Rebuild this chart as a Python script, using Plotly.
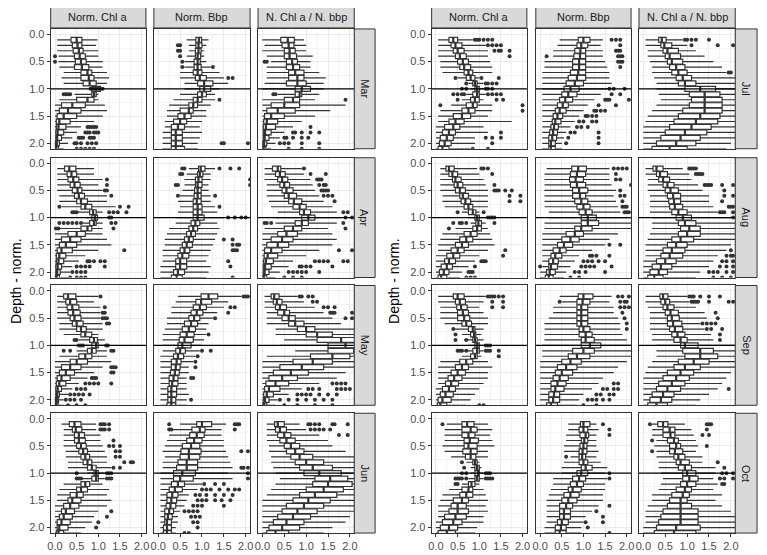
import plotly.graph_objects as go

# depth bins (normalised depth), one box per bin
DEPTH = [0.1, 0.2, 0.3, 0.4, 0.5, 0.6, 0.7, 0.8, 0.9, 1.0,
         1.1, 1.2, 1.3, 1.4, 1.5, 1.6, 1.7, 1.8, 1.9, 2.0, 2.1]

VARIABLES = ['Norm. Chl a', 'Norm. Bbp', 'N. Chl a / N. bbp']
MONTHS_LEFT = ['Mar', 'Apr', 'May', 'Jun']
MONTHS_RIGHT = ['Jul', 'Aug', 'Sep', 'Oct']
TICKS = [0.0, 0.5, 1.0, 1.5, 2.0]
TICK_TEXT = ['0.0', '0.5', '1.0', '1.5', '2.0']

# box stats per depth bin: (lower whisker, q1, median, q3, upper whisker)
mar_chl = [(.05,.37,.5,.62,.98),(.05,.4,.52,.62,.95),(.05,.42,.55,.65,1.0),(.08,.45,.57,.7,1.0),
           (.08,.47,.6,.72,1.1),(.1,.45,.62,.78,1.1),(.2,.6,.75,.85,1.2),(.15,.6,.78,.9,1.25),
           (.2,.65,.8,.95,1.2),(.8,.85,.95,1.05,1.1),(.45,.85,.9,.95,1.0),(.1,.5,.75,.9,1.0),
           (0,.15,.4,.7,1.15),(0,.1,.3,.6,1.2),(0,.05,.2,.5,1.1),(0,.03,.1,.35,.9),
           (0,.03,.08,.25,.6),(0,.02,.06,.2,.5),(0,.02,.05,.15,.4),(0,.01,.04,.1,.3),(0,.01,.03,.08,.2)]
mar_bbp = [(.65,.86,.93,.99,1.15),(.7,.86,.92,1.0,1.1),(.7,.85,.92,.98,1.05),(.65,.85,.9,.97,1.05),
           (.6,.82,.9,.96,1.1),(.6,.82,.9,.98,1.2),(.5,.8,.9,1.0,1.4),(.5,.85,.95,1.1,1.5),
           (.6,.9,1.05,1.25,1.6),(.6,.95,1.05,1.2,1.4),(.5,.9,1.0,1.1,1.3),(.35,.8,.9,1.0,1.3),
           (.25,.7,.8,.9,1.2),(.2,.5,.7,.8,1.1),(.2,.45,.6,.75,1.1),(.15,.35,.5,.65,1.0),
           (.15,.3,.45,.6,.95),(.1,.3,.4,.55,1.0),(.1,.3,.4,.55,.95),(.1,.3,.4,.55,.9),(.1,.3,.4,.6,.9)]
mar_rat = [(0,.42,.58,.73,.95),(.05,.45,.6,.72,1.0),(0,.5,.62,.75,1.0),(.1,.5,.62,.78,1.15),
           (.2,.55,.68,.8,1.1),(.1,.55,.7,.85,1.1),(.1,.6,.75,.95,1.3),(.1,.6,.8,.95,1.45),
           (.05,.55,.8,1.0,1.4),(0,.75,.9,1.1,1.4),(.35,.75,.85,.9,1.3),(0,.5,.7,.85,1.2),
           (0,.2,.5,.85,1.9),(0,.1,.35,.75,1.55),(0,.05,.2,.5,1.2),(0,.03,.1,.35,.9),
           (0,.02,.08,.3,.7),(0,.02,.06,.2,.5),(0,.02,.05,.15,.4),(0,.01,.04,.1,.3),(0,.01,.03,.08,.2)]

apr_chl = [(.05,.22,.33,.48,.9),(.05,.28,.38,.5,.9),(.05,.3,.42,.55,1.1),(.05,.35,.45,.58,1.0),
           (.05,.4,.52,.62,1.1),(.1,.45,.55,.68,1.2),(.1,.5,.6,.75,1.2),(.15,.6,.7,.85,1.4),
           (.5,.8,.88,.95,1.1),(.7,.85,.92,.98,1.1),(.6,.8,.9,.95,1.1),(.1,.6,.75,.85,1.1),
           (0,.3,.5,.7,1.1),(0,.15,.35,.6,1.2),(0,.1,.25,.5,1.3),(0,.05,.15,.4,1.0),
           (0,.03,.1,.25,.7),(0,.03,.08,.2,.55),(0,.02,.06,.15,.4),(0,.02,.05,.12,.35),(0,.01,.04,.1,.3)]
apr_bbp = [(.7,.92,.97,1.07,1.3),(.65,.9,.95,1.02,1.2),(.6,.85,.92,1.0,1.2),(.6,.85,.9,1.0,1.15),
           (.55,.83,.9,.98,1.15),(.5,.82,.9,.98,1.2),(.45,.8,.88,.98,1.2),(.5,.8,.9,1.0,1.3),
           (.45,.8,.9,1.0,1.35),(.4,.8,.9,1.05,1.5),(.4,.75,.85,.95,1.35),(.25,.7,.8,.9,1.4),
           (.2,.65,.75,.85,1.35),(.15,.6,.7,.8,1.3),(.15,.55,.65,.78,1.25),(.1,.5,.6,.72,1.2),
           (.1,.45,.55,.7,1.15),(.1,.4,.5,.65,1.1),(.05,.4,.5,.65,1.2),(.05,.35,.45,.6,1.15),(.05,.3,.42,.55,1.1)]
apr_rat = [(.05,.23,.35,.42,.9),(.05,.3,.4,.52,.95),(.05,.35,.45,.58,1.1),(.1,.4,.5,.62,1.15),
           (.1,.45,.55,.7,1.2),(.1,.5,.6,.78,1.3),(.15,.6,.72,.9,1.4),(.2,.7,.85,1.0,1.6),
           (.35,.85,.95,1.1,1.7),(.3,.9,1.05,1.2,1.8),(.3,.75,.9,1.05,1.7),(.05,.5,.7,.9,1.5),
           (0,.35,.55,.8,1.6),(0,.2,.45,.7,1.7),(0,.1,.35,.6,1.6),(0,.05,.2,.45,1.3),
           (0,.04,.12,.35,1.0),(0,.03,.08,.25,.7),(0,.02,.06,.2,.6),(0,.02,.05,.15,.4),(0,.01,.04,.1,.3)]

may_chl = [(.05,.2,.3,.48,1.0),(.05,.25,.35,.5,.9),(.05,.28,.4,.55,1.05),(.05,.3,.42,.58,1.05),
           (.05,.35,.45,.6,1.05),(.1,.4,.5,.65,1.1),(.1,.5,.6,.72,1.1),(.2,.6,.7,.85,1.0),
           (.55,.8,.9,.98,1.15),(.65,.85,.95,1.0,1.15),(.5,.75,.85,.95,1.2),(.1,.55,.7,.85,1.2),
           (0,.35,.5,.75,1.3),(0,.15,.35,.6,1.1),(0,.1,.25,.45,.9),(0,.05,.15,.35,.75),
           (0,.03,.1,.25,.55),(0,.02,.06,.15,.4),(0,.02,.05,.1,.3),(0,.01,.04,.08,.2),(0,.01,.03,.07,.2)]
may_bbp = [(.45,.98,1.15,1.36,1.9),(.4,.86,.98,1.22,1.6),(.3,.8,.95,1.1,1.5),(.3,.75,.88,1.02,1.35),
           (.2,.7,.82,.95,1.25),(.2,.6,.75,.9,1.15),(.15,.55,.7,.85,1.1),(.1,.5,.65,.82,1.1),
           (.1,.48,.6,.8,1.05),(.1,.45,.55,.75,1.0),(.1,.4,.5,.62,.95),(.05,.35,.45,.58,.85),
           (.05,.3,.42,.52,.8),(.05,.3,.4,.5,.7),(.05,.28,.38,.48,.7),(.05,.25,.35,.45,.65),
           (.05,.25,.32,.45,.65),(.05,.22,.3,.42,.65),(.05,.22,.3,.42,.7),(.05,.22,.3,.4,.65),(.05,.2,.3,.4,.65)]
may_rat = [(.05,.2,.27,.38,.8),(.05,.25,.33,.45,.95),(.05,.3,.4,.55,1.2),(.1,.35,.5,.62,1.4),
           (.1,.45,.6,.75,1.6),(.1,.6,.75,.95,1.8),(.3,.8,1.0,1.2,2.2),(.3,1.0,1.25,1.6,2.3),
           (.5,1.25,1.8,2.2,2.5),(.4,1.5,1.9,2.3,2.6),(.75,1.5,2.1,2.3,2.6),(.1,1.1,1.6,2.0,2.5),
           (0,.7,1.15,1.6,2.3),(0,.4,.9,1.4,2.2),(0,.25,.65,1.05,1.9),(0,.15,.45,.8,1.7),
           (0,.08,.3,.6,1.3),(0,.05,.15,.4,.9),(0,.03,.1,.25,.6),(0,.02,.06,.15,.35),(0,.01,.04,.1,.3)]

jun_chl = [(.15,.33,.45,.6,.95),(.2,.4,.48,.62,.95),(.2,.45,.55,.68,1.05),(.2,.45,.55,.7,1.05),
           (.2,.5,.6,.72,1.1),(.25,.55,.65,.75,1.15),(.25,.6,.7,.8,1.2),(.3,.65,.75,.85,1.2),
           (.3,.75,.85,.95,1.3),(.75,.9,.95,1.0,1.15),(.6,.85,.95,1.0,1.15),(.2,.6,.7,.8,1.1),
           (.1,.5,.6,.75,1.25),(.05,.35,.5,.65,1.2),(.05,.3,.4,.6,1.3),(0,.2,.35,.55,1.2),
           (0,.15,.25,.45,1.0),(0,.1,.2,.4,.9),(0,.05,.15,.35,.85),(0,.05,.1,.3,.7),(0,.03,.08,.2,.6)]
jun_bbp = [(.5,.88,1.0,1.22,1.55),(.3,.77,.95,1.07,1.45),(.25,.72,.88,1.05,1.45),(.2,.65,.82,1.0,1.5),
           (.15,.55,.75,.95,1.5),(.1,.52,.7,.98,1.55),(.15,.5,.7,.95,1.6),(.1,.45,.65,.9,1.65),
           (.1,.42,.65,.9,1.7),(.05,.35,.55,.85,1.6),(.05,.35,.5,.8,1.7),(.05,.3,.45,.6,1.0),
           (.05,.25,.38,.55,.9),(.05,.2,.32,.45,.7),(.05,.2,.3,.42,.65),(.05,.18,.28,.4,.6),
           (.05,.15,.25,.35,.5),(.05,.15,.22,.32,.45),(.05,.15,.2,.3,.45),(.05,.12,.2,.3,.4),(.05,.12,.2,.3,.4)]
jun_rat = [(.1,.28,.35,.5,.85),(.1,.3,.4,.55,1.0),(.1,.35,.5,.65,1.3),(.1,.4,.55,.75,1.5),
           (.15,.5,.65,.85,1.6),(.15,.55,.75,.95,1.9),(.2,.65,.85,1.15,2.2),(.2,.75,1.0,1.4,2.3),
           (.25,.85,1.15,1.6,2.3),(.3,.95,1.3,1.8,2.4),(.4,1.2,1.55,1.95,2.5),(.3,1.15,1.5,2.05,2.5),
           (.2,1.0,1.4,1.85,2.5),(.1,.85,1.2,1.7,2.4),(0,.7,1.05,1.55,2.3),(0,.55,.95,1.4,2.2),
           (0,.45,.8,1.25,2.1),(0,.35,.7,1.1,2.0),(0,.25,.55,.95,1.9),(0,.15,.45,.85,1.6),(0,.1,.3,.6,1.4)]

jul_chl = [(.05,.3,.4,.5,.85),(.05,.35,.45,.6,1.15),(.05,.4,.5,.65,1.2),(.05,.45,.55,.7,1.2),
           (.1,.5,.62,.75,1.25),(.1,.55,.65,.8,1.3),(.15,.65,.75,.85,1.3),(.5,.7,.8,.9,1.0),
           (.75,.85,.9,.95,1.1),(.8,.9,.95,1.0,1.1),(.7,.85,.95,1.0,1.15),(.6,.8,.9,1.0,1.1),
           (.35,.7,.85,.95,1.3),(.1,.6,.75,.9,1.3),(.05,.4,.6,.8,1.2),(.05,.3,.45,.65,1.75),
           (0,.2,.4,.55,1.1),(0,.15,.3,.45,1.2),(0,.1,.25,.4,.9),(0,.08,.2,.35,.9),(0,.05,.15,.3,.8)]
jul_bbp = [(.45,.88,1.0,1.15,1.45),(.4,.85,.95,1.1,1.4),(.3,.8,.93,1.05,1.45),(.3,.78,.92,1.05,1.45),
           (.1,.75,.9,1.05,1.5),(.1,.75,.9,1.05,1.55),(.05,.7,.88,1.05,1.6),(.05,.65,.85,1.05,1.6),
           (.05,.6,.8,1.0,1.65),(.05,.55,.7,.9,1.55),(.05,.5,.65,.85,1.4),(.05,.45,.58,.75,1.25),
           (.05,.4,.52,.65,1.1),(.05,.35,.45,.6,1.0),(.05,.3,.4,.52,.9),(.05,.28,.35,.48,.8),
           (.05,.25,.32,.42,.7),(.05,.22,.3,.4,.6),(.05,.2,.28,.38,.55),(.05,.2,.25,.35,.5),(.05,.2,.25,.35,.5)]
jul_rat = [(.05,.35,.42,.52,.9),(.05,.4,.48,.65,1.0),(.1,.45,.55,.8,1.2),(.1,.5,.6,.85,1.4),
           (.15,.55,.65,.9,1.6),(.2,.6,.75,.95,1.8),(.2,.65,.8,1.0,1.9),(.25,.75,.9,1.1,2.1),
           (.3,.8,.95,1.2,2.2),(.3,.95,1.3,1.65,2.4),(.35,1.05,1.4,1.75,2.4),(.4,1.1,1.4,1.8,2.4),
           (.3,1.05,1.4,1.8,2.5),(.2,.9,1.4,1.8,2.5),(.1,.8,1.3,1.75,2.5),(.05,.7,1.2,1.7,2.4),
           (0,.6,1.1,1.55,2.3),(0,.5,.95,1.45,2.2),(0,.4,.85,1.3,2.1),(0,.3,.75,1.2,2.0),(0,.2,.6,1.0,1.9)]

aug_chl = [(.1,.23,.3,.42,.95),(.1,.3,.38,.5,1.0),(.1,.38,.45,.58,1.1),(.1,.42,.5,.62,1.15),
           (.1,.45,.55,.68,1.2),(.15,.55,.62,.75,1.2),(.15,.58,.68,.8,1.2),(.2,.65,.75,.85,1.2),
           (.6,.75,.85,.92,1.0),(.75,.9,.95,1.0,1.15),(.8,.92,.98,1.05,1.15),(.45,.85,.95,1.05,1.2),
           (.15,.65,.8,.95,1.25),(.1,.55,.7,.85,1.3),(.05,.45,.6,.75,1.35),(.05,.35,.5,.65,1.2),
           (0,.25,.4,.55,1.0),(0,.2,.3,.45,.9),(0,.12,.25,.38,.75),(0,.08,.18,.3,.6),(0,.05,.12,.25,.55)]
aug_bbp = [(.15,.73,.88,1.07,1.6),(.1,.7,.85,1.05,1.6),(.1,.68,.82,1.0,1.6),(.1,.7,.85,1.05,1.65),
           (.1,.75,.9,1.1,1.75),(.1,.75,.92,1.05,1.7),(.1,.8,.95,1.1,1.75),(.1,.85,1.0,1.15,1.8),
           (.2,.9,1.05,1.2,1.85),(.2,.95,1.1,1.3,2.2),(.1,.95,1.1,1.35,2.2),(.1,.8,.95,1.2,2.1),
           (.05,.6,.8,1.0,1.8),(.05,.5,.7,.9,1.6),(.05,.4,.55,.75,1.5),(.05,.3,.45,.6,1.2),
           (.05,.25,.35,.5,.9),(.05,.2,.3,.42,.8),(.05,.2,.25,.4,.7),(0,.15,.22,.35,.6),(0,.12,.2,.3,.55)]
aug_rat = [(.05,.22,.3,.45,.9),(.05,.3,.38,.55,1.05),(.1,.35,.45,.6,1.1),(.1,.45,.55,.7,1.25),
           (.1,.5,.62,.8,1.35),(.15,.55,.68,.85,1.5),(.15,.58,.7,.85,1.5),(.15,.6,.72,.9,1.6),
           (.15,.65,.8,1.0,1.7),(.2,.75,.9,1.1,2.0),(.2,.8,.95,1.2,2.2),(.2,.85,1.05,1.3,2.3),
           (.15,.8,1.0,1.3,2.3),(.1,.65,.85,1.15,2.2),(.05,.55,.75,1.0,2.0),(.05,.45,.65,.95,1.9),
           (.05,.4,.6,.9,1.7),(0,.3,.5,.75,1.6),(0,.2,.4,.65,1.5),(0,.15,.35,.55,1.3),(0,.1,.25,.45,1.2)]

sep_chl = [(.05,.4,.5,.65,1.15),(.05,.45,.55,.68,1.1),(.1,.48,.58,.72,1.0),(.1,.5,.62,.75,1.1),
           (.1,.5,.65,.78,1.2),(.2,.6,.7,.82,1.2),(.4,.75,.85,.9,1.1),(.6,.8,.88,.92,1.05),
           (.65,.85,.9,.95,1.1),(.75,.9,.95,1.0,1.15),(.6,.85,.95,1.0,1.1),(.6,.8,.9,.95,1.05),
           (.1,.55,.7,.85,1.2),(.05,.45,.6,.75,1.3),(.05,.35,.5,.68,1.2),(.05,.28,.42,.6,1.2),
           (.05,.22,.35,.52,1.1),(0,.15,.3,.45,1.0),(0,.1,.22,.4,.9),(0,.05,.15,.35,.8),(0,.03,.1,.25,.7)]
sep_bbp = [(.45,.88,1.0,1.22,1.65),(.5,.85,.98,1.15,1.6),(.3,.85,.95,1.1,1.7),(.3,.85,.95,1.1,1.7),
           (.2,.85,.95,1.1,1.8),(.1,.85,.95,1.1,1.85),(.1,.9,1.0,1.15,1.85),(.1,.9,1.05,1.2,1.9),
           (.1,.95,1.05,1.25,2.0),(.05,.95,1.15,1.4,2.2),(.05,.75,1.0,1.25,2.2),(.05,.65,.85,1.15,2.1),
           (0,.5,.7,.95,2.0),(0,.4,.6,.85,1.8),(0,.35,.5,.75,1.7),(0,.3,.45,.65,1.45),
           (0,.25,.4,.6,1.35),(0,.25,.35,.55,1.2),(0,.2,.32,.45,1.0),(0,.2,.3,.45,.9),(0,.15,.25,.4,.85)]
sep_rat = [(.05,.38,.45,.56,1.0),(.05,.4,.5,.6,1.05),(.1,.45,.55,.7,1.2),(.15,.5,.62,.8,1.4),
           (.15,.55,.65,.82,1.45),(.15,.55,.68,.88,1.3),(.15,.6,.72,.9,1.4),(.2,.65,.78,.95,1.55),
           (.2,.7,.85,1.0,1.6),(.3,.85,.95,1.25,2.1),(.3,.9,1.3,1.6,2.3),(.3,.95,1.3,1.7,2.3),
           (.2,.8,1.15,1.5,2.3),(.1,.7,.95,1.3,2.2),(.05,.55,.85,1.15,2.0),(0,.45,.75,1.05,1.9),
           (0,.35,.65,.95,1.8),(0,.3,.55,.85,1.7),(0,.2,.45,.7,1.5),(0,.15,.4,.65,1.3),(0,.1,.3,.55,1.2)]

oct_chl = [(.25,.6,.72,.88,1.2),(.2,.6,.8,.95,1.3),(.2,.6,.75,.9,1.25),(.2,.65,.78,.98,1.3),
           (.15,.65,.75,.95,1.35),(.2,.62,.8,.95,1.2),(.35,.68,.8,.92,1.2),(.7,.85,.9,.95,1.0),
           (.8,.9,.95,1.0,1.05),(.8,.9,.97,1.0,1.1),(.75,.9,.95,1.0,1.1),(.6,.75,.82,.9,1.0),
           (.3,.6,.75,.85,1.1),(.15,.55,.7,.85,1.15),(.1,.4,.6,.75,1.2),(.05,.35,.5,.7,1.15),
           (.05,.3,.5,.75,1.2),(.05,.2,.45,.7,1.1),(0,.15,.4,.6,1.1),(0,.1,.3,.5,.95),(0,.05,.25,.45,.9)]
oct_bbp = [(.65,.93,1.0,1.15,1.3),(.65,.9,1.0,1.1,1.35),(.6,.92,1.05,1.12,1.3),(.6,.95,1.02,1.1,1.3),
           (.55,.92,1.0,1.08,1.3),(.55,.9,.98,1.08,1.35),(.7,.9,.97,1.05,1.3),(.55,.9,1.0,1.1,1.4),
           (.5,.95,1.05,1.2,1.55),(.5,.85,.95,1.1,1.5),(.3,.75,.9,1.05,1.55),(.3,.7,.85,1.0,1.5),
           (.25,.65,.75,.95,1.5),(.2,.55,.7,.9,1.45),(.15,.5,.65,.85,1.45),(.15,.45,.6,.75,1.35),
           (.15,.45,.55,.7,1.2),(.15,.45,.55,.7,1.05),(.15,.4,.5,.65,1.0),(.1,.35,.48,.6,.95),(.1,.35,.45,.6,.95)]
oct_rat = [(.2,.33,.45,.56,.95),(.2,.45,.6,.72,1.1),(.2,.45,.62,.72,1.15),(.3,.55,.7,.8,1.2),
           (.25,.6,.75,.85,1.25),(.3,.6,.72,.9,1.2),(.3,.7,.8,.95,1.35),(.35,.75,.85,1.05,1.35),
           (.35,.8,.95,1.1,1.65),(.4,.9,1.0,1.2,1.65),(.45,.9,1.05,1.25,1.6),(.4,.85,1.0,1.2,1.7),
           (.35,.75,.95,1.1,1.6),(.2,.65,.9,1.05,1.8),(.2,.6,.85,1.0,1.65),(.1,.55,.85,1.1,1.8),
           (.05,.45,.85,1.25,2.0),(.05,.4,.85,1.25,2.2),(.05,.35,.85,1.25,2.2),(0,.3,.75,1.3,2.2),(0,.25,.7,1.2,2.2)]

# outliers: (depth bin, [values])
mar_chl_out = [(0.4,[0.0]),(0.5,[0.0]),(1.0,[0.82,0.86,0.9,0.95,1.0,1.05,1.1]),(1.1,[0.2,0.25,0.3,0.35]),
               (1.7,[0.75,0.8,0.85,0.9,0.95]),(1.8,[0.7,0.75,0.8,0.9,0.95,1.0]),(1.9,[0.55,0.6,0.65,0.8,0.85,0.9]),
               (2.0,[0.45,0.5,0.6,0.75,0.85,0.95]),(2.1,[0.5,0.6,0.7,0.8,0.9])]
mar_bbp_out = [(0.2,[0.45,0.5]),(0.3,[0.45,0.5]),(0.4,[0.5]),(0.5,[0.55]),(0.6,[0.55,1.25]),(0.8,[1.6,1.7]),
               (1.2,[1.4]),(2.0,[1.45,1.5,2.05])]
mar_rat_out = [(0.5,[0.05,0.1]),(1.1,[0.25,0.3]),(1.2,[1.9]),(1.7,[1.1]),(1.8,[0.7,0.75,0.9,1.1,1.3]),
               (1.9,[0.5,0.55,0.7,0.9,1.05]),(2.0,[0.4,0.5,0.6,0.9,1.3]),(2.1,[0.6,0.9,1.3])]
apr_chl_out = [(0.3,[1.2]),(0.4,[1.2]),(0.5,[1.15,1.2]),(0.6,[1.3]),(0.8,[0.1,1.5,1.7]),
               (0.9,[0.4,0.45,0.5,1.25,1.35,1.45,1.65]),(1.0,[1.25,1.3]),
               (1.1,[0.1,0.2,0.3,0.4,0.5,0.6,1.3,1.4]),(1.2,[0.02,0.08,1.35]),(1.6,[1.6]),
               (1.8,[0.75,0.8,0.9,1.05,1.15]),(1.9,[0.5,0.6,0.7,0.8,1.15]),(2.0,[0.4,0.5,0.6,0.7]),
               (2.1,[0.35,0.5,0.6,0.7])]
apr_bbp_out = [(0.1,[0.55,0.6,1.4,1.65,1.85]),(0.2,[0.5,0.55]),(0.3,[2.1]),(0.4,[0.4,0.45,2.1]),
               (0.6,[0.45,1.3]),(0.8,[1.4]),(1.0,[1.6,1.75,1.9,2.0]),(1.4,[1.5,1.7]),(1.5,[1.7,1.8,1.85]),
               (1.6,[1.7,1.75,1.8]),(1.8,[1.6]),(1.9,[1.65]),(2.1,[1.7])]
apr_rat_out = [(0.1,[0.95]),(0.2,[1.1,1.45]),(0.3,[1.25,1.3,1.35]),(0.4,[1.3,1.4,1.45]),
               (0.5,[1.35,1.4,1.45,1.5]),(0.6,[1.4,1.5,1.6]),(0.7,[1.65]),(0.9,[1.85,1.95]),(1.0,[1.9,2.05]),
               (1.1,[0.05,0.1,0.2,1.85]),(1.2,[1.9]),(1.6,[1.75,2.05]),(1.8,[1.2,1.3,1.4,1.5,1.85,1.95]),
               (1.9,[0.85,0.9,1.0,1.1,1.6]),(2.0,[0.6,0.7,0.8,0.9,1.0,1.3]),(2.1,[0.5,0.7,0.9])]
may_chl_out = [(0.1,[1.05]),(0.3,[1.15]),(0.4,[1.1,1.15]),(0.5,[1.1,1.15,1.2]),(0.6,[1.2,1.25]),
               (0.9,[0.45,0.5]),(1.0,[0.55,0.6,0.65,1.18,1.22]),(1.1,[0.2,0.35,1.3,1.35]),(1.4,[1.3,1.35,1.4]),
               (1.5,[1.3,1.35]),(1.6,[0.85,0.9,0.95]),(1.7,[0.7,0.8,0.9,1.0,1.3]),(1.8,[0.5,0.6,0.7]),
               (1.9,[0.35,0.45,0.55,0.65,0.8]),(2.0,[0.25,0.35,0.45,0.6]),(2.1,[0.3,0.5,0.7])]
may_bbp_out = [(0.1,[1.95,2.0,2.05]),(0.3,[1.65,1.75]),(0.4,[1.6]),(0.5,[1.3]),(0.8,[1.15]),(1.1,[1.0,1.2]),
               (1.2,[0.9]),(1.3,[0.85]),(1.4,[0.85]),(1.6,[0.75,0.8]),(2.0,[0.75])]
may_rat_out = [(0.1,[0.85,0.9,1.05,1.15]),(0.2,[1.15,1.25]),(0.3,[1.4,1.5,1.65]),(0.4,[1.55,1.6,1.65,2.05]),
               (0.5,[1.9,2.05]),(1.7,[1.6,1.7,1.8,1.9]),(1.8,[1.05,1.15,1.3,1.7,1.8,1.9,2.0]),
               (1.9,[0.8,0.9,1.0,1.1,1.3,1.5,1.7]),(2.0,[0.4,0.6,0.8,1.0,1.2,1.4,1.6]),(2.1,[0.5,0.8,1.2,1.6])]
jun_chl_out = [(0.1,[1.05,1.1,1.15,1.25]),(0.2,[1.05,1.1,1.15,1.25]),(0.4,[1.35]),(0.5,[1.25,1.35,1.5]),
               (0.6,[1.4,1.5]),(0.7,[1.4,1.5]),(0.8,[1.6,1.75,1.8]),(0.9,[1.35,1.5]),(1.0,[0.5,1.2,1.25,1.3]),
               (1.1,[0.5,0.55,0.6,1.2,1.25,1.3]),(1.7,[1.3]),(1.8,[1.2]),(1.9,[1.0]),(2.0,[0.95])]
jun_bbp_out = [(0.1,[0.25,1.75,1.8,1.85]),(0.2,[0.25,0.3,1.75]),(0.6,[1.9,2.05]),(0.9,[1.9,1.95,2.05]),
               (1.0,[2.05]),(1.1,[2.05]),(1.2,[1.05,1.3,1.5]),(1.3,[1.0,1.1,1.2,1.4,1.6,1.75,1.85]),
               (1.4,[0.85,0.95,1.1,1.3,1.5,1.7]),(1.5,[0.9,1.0,1.1,1.3,1.45,1.65]),(1.6,[0.8,0.9,1.0,1.5]),
               (1.7,[0.6,0.7,0.8,0.9]),(1.8,[0.75,0.85,0.95]),(1.9,[0.8,0.9]),(2.0,[0.9]),(2.1,[0.6,0.7])]
jun_rat_out = [(0.1,[1.05,1.1,1.2,1.3,1.6,1.65,1.95]),(0.2,[1.1,1.2,1.3,1.4,1.55]),(0.3,[1.75,1.95])]
jul_chl_out = [(0.1,[0.9,0.95,1.0,1.1,1.2,1.3]),(0.2,[1.2,1.3,1.4,1.5]),(0.3,[1.35,1.45,1.5,1.7]),(0.4,[1.7]),
               (0.8,[0.45,1.05,1.45]),(0.9,[0.7,1.15,1.2,1.3,1.4]),(1.0,[0.6,0.7,1.15,1.2,1.3]),
               (1.1,[0.4,0.5,0.6,0.65,1.2,1.3,1.4,1.5]),(1.2,[0.5,1.4,1.55]),(1.3,[0.1,2.0]),(1.4,[2.0]),
               (1.8,[1.5]),(1.9,[1.15,1.3,1.5]),(2.0,[1.3]),(2.1,[0.85,1.2])]
jul_bbp_out = [(0.1,[1.65,1.75,1.85]),(0.2,[1.85]),(0.3,[1.75,1.8,1.85]),(0.4,[0.15,1.8,1.85,1.9]),
               (0.5,[1.8,1.85,1.9]),(0.6,[1.85]),(1.0,[1.6,1.7,1.95]),(1.1,[1.65,1.85]),(1.2,[1.5,1.55,1.6,2.05]),
               (1.3,[1.35,1.75]),(1.4,[1.25,1.3,1.4,1.5]),(1.5,[1.05,1.1,1.2,1.3]),(1.6,[0.9,1.0,1.2,1.3]),
               (1.7,[0.85,0.95,1.1]),(1.8,[0.7,0.8,1.35]),(1.9,[0.65,1.35]),(2.0,[0.6,1.35])]
jul_rat_out = [(0.1,[0.95,1.0,1.1,1.2,1.5]),(0.2,[1.1,1.7,2.05]),(0.7,[1.95,2.0])]
aug_chl_out = [(0.1,[1.05,1.1,1.2]),(0.2,[1.3]),(0.4,[1.35]),(0.5,[1.35,1.4,1.45,1.6,1.75]),(0.6,[1.7,1.95]),
               (0.7,[1.7,1.95]),(0.9,[0.5,1.1]),(1.0,[1.2,1.25,1.3,1.35]),(1.1,[0.4,0.55,0.6,0.7,1.35]),
               (1.2,[0.3]),(1.6,[1.6]),(1.7,[1.55]),(1.8,[1.05,1.1,1.15]),(1.9,[0.9]),(2.0,[0.75,0.8,0.85]),
               (2.1,[0.7,0.8,0.9])]
aug_bbp_out = [(0.1,[1.7,1.8,1.9,2.0]),(0.2,[1.75]),(0.3,[1.75,1.85]),(0.4,[2.1]),(0.5,[1.85]),
               (0.6,[1.85,1.95]),(0.7,[1.9]),(0.8,[1.9,1.95,2.0]),(0.9,[1.95,2.0,2.05]),(1.5,[1.6,1.85]),
               (1.7,[1.15,1.2,1.3,1.6]),(1.8,[1.0,1.1,1.2,1.35,1.5]),(1.9,[0.0,0.95,1.05,1.15,1.25,1.65]),
               (2.0,[0.8,0.9,1.05,1.5]),(2.1,[0.7,0.9])]
aug_rat_out = [(0.1,[1.05,1.1,1.15,1.2]),(0.2,[1.2,1.25,1.3,1.35]),(0.4,[1.4,1.45,1.5,1.55,1.8,2.05]),
               (0.5,[1.85]),(0.6,[1.85,2.05]),(0.7,[1.8]),(0.8,[1.95,2.0,2.05]),(0.9,[1.75,1.8,1.85,2.05]),
               (1.0,[2.05]),(1.6,[2.0]),(1.7,[1.9,2.0,2.05]),(1.8,[1.8,1.9,2.05]),(1.9,[1.75,1.9,2.05]),
               (2.0,[1.5,1.6,1.7,1.9,2.05]),(2.1,[1.6,1.8,2.0])]
sep_chl_out = [(0.1,[1.2,1.25,1.3,1.35,1.45,1.55]),(0.2,[1.3,1.55]),(0.3,[1.3,1.55]),(0.7,[0.4]),(0.8,[0.45]),
               (0.9,[0.45,0.7]),(1.0,[1.15,1.2,1.25]),(1.1,[0.5,0.55,0.6,0.7,1.15,1.2,1.25,1.45]),(1.2,[1.45]),
               (2.1,[1.0,1.1])]
sep_bbp_out = [(0.1,[1.8,1.9,2.05]),(0.2,[0.45,1.85,1.95,2.0]),(0.3,[1.85,1.95,2.05]),(0.4,[1.9]),(0.5,[1.95]),
               (0.6,[2.0]),(0.7,[2.0]),(1.7,[1.7,1.8]),(1.8,[1.45,1.55,1.7,1.8]),(1.9,[1.3,1.4,1.6,1.7]),
               (2.0,[1.1,1.2,1.3,1.45,1.6]),(2.1,[1.0,1.3])]
sep_rat_out = [(0.1,[1.05,1.1,1.15,1.3,1.5,1.75]),(0.2,[1.1,1.15,1.2,1.25,1.5,1.95,2.05]),(0.4,[1.65]),
               (0.5,[1.7]),(0.6,[1.35,1.45,1.55,1.65]),(0.7,[1.45,1.55,1.8]),(0.8,[1.75]),(0.9,[1.75]),(1.8,[1.95])]
oct_chl_out = [(0.1,[0.15]),(0.8,[0.6]),(0.9,[0.65]),(1.0,[0.6,0.7,1.15,1.2,1.25]),
               (1.1,[0.45,0.5,0.55,0.6,0.7,1.15,1.2,1.25,1.3]),(1.2,[0.45,0.5])]
oct_bbp_out = [(0.1,[1.45]),(0.2,[1.6]),(0.3,[1.6]),(0.7,[0.6]),(1.0,[1.6]),(1.1,[1.6]),(1.6,[1.6]),
               (1.7,[1.3]),(1.8,[1.45]),(1.9,[1.05,1.45]),(2.0,[1.1]),(2.1,[1.6])]
oct_rat_out = [(0.1,[0.15,1.45,1.5,1.55]),(0.2,[1.45]),(0.3,[1.35,1.5]),(0.4,[0.2]),(0.5,[1.45]),(0.6,[0.2]),
               (0.8,[1.7]),(0.9,[1.85]),(1.0,[1.8,1.9,2.05]),(1.1,[1.75,1.85,2.05]),(1.2,[1.8,1.85])]

PANELS = {
    'Mar': [(mar_chl, mar_chl_out), (mar_bbp, mar_bbp_out), (mar_rat, mar_rat_out)],
    'Apr': [(apr_chl, apr_chl_out), (apr_bbp, apr_bbp_out), (apr_rat, apr_rat_out)],
    'May': [(may_chl, may_chl_out), (may_bbp, may_bbp_out), (may_rat, may_rat_out)],
    'Jun': [(jun_chl, jun_chl_out), (jun_bbp, jun_bbp_out), (jun_rat, jun_rat_out)],
    'Jul': [(jul_chl, jul_chl_out), (jul_bbp, jul_bbp_out), (jul_rat, jul_rat_out)],
    'Aug': [(aug_chl, aug_chl_out), (aug_bbp, aug_bbp_out), (aug_rat, aug_rat_out)],
    'Sep': [(sep_chl, sep_chl_out), (sep_bbp, sep_bbp_out), (sep_rat, sep_rat_out)],
    'Oct': [(oct_chl, oct_chl_out), (oct_bbp, oct_bbp_out), (oct_rat, oct_rat_out)],
}

# page geometry in screen pixels; the page body adds an 8px offset,
# so the figure itself is 8px smaller and coordinates are shifted
OFF = 8
W, H = 767 - OFF, 555 - OFF
COLS = [[(48, 144), (152, 249), (257, 354)], [(432, 528), (537, 633), (641, 738)]]
STRIP_R = [(354, 375), (738, 760)]
ROWS = [(28, 148), (157, 277), (285, 405), (413, 533)]
STRIP_TOP = (6, 27)
TITLE_X = [13, 394]

DARK = '#333333'
FONT = 'Liberation Sans, Arial, sans-serif'
BOX_W = 0.09


def px(x):
    return (x - OFF) / W


def py(y):
    return 1 - (y - OFF) / H


fig = go.Figure()
shapes = []
annotations = []
layout = {}

for b, months in enumerate([MONTHS_LEFT, MONTHS_RIGHT]):
    for r, month in enumerate(months):
        for c in range(3):
            i = b * 12 + r * 3 + c + 1
            xa = 'x' if i == 1 else f'x{i}'
            ya = 'y' if i == 1 else f'y{i}'
            stats, outs = PANELS[month][c]
            lo = [s[0] for s in stats]
            q1 = [s[1] for s in stats]
            med = [s[2] for s in stats]
            q3 = [s[3] for s in stats]
            hi = [s[4] for s in stats]

            fig.add_trace(go.Box(
                y=DEPTH, q1=q1, median=med, q3=q3, lowerfence=lo, upperfence=hi,
                orientation='h', width=BOX_W, whiskerwidth=0, boxpoints=False,
                fillcolor='white', line=dict(color=DARK, width=1.2),
                xaxis=xa, yaxis=ya, showlegend=False, hoverinfo='skip'))

            # thicker median bars like ggplot
            mx, my = [], []
            for d, m in zip(DEPTH, med):
                mx += [m, m, None]
                my += [d - BOX_W / 2, d + BOX_W / 2, None]
            fig.add_trace(go.Scatter(x=mx, y=my, mode='lines', line=dict(color=DARK, width=2.2),
                                     xaxis=xa, yaxis=ya, showlegend=False, hoverinfo='skip'))

            ox, oy = [], []
            for d, vals in outs:
                ox += vals
                oy += [d] * len(vals)
            fig.add_trace(go.Scatter(x=ox, y=oy, mode='markers',
                                     marker=dict(size=4, color=DARK),
                                     xaxis=xa, yaxis=ya, showlegend=False, hoverinfo='skip'))

            x0, x1 = COLS[b][c]
            y0, y1 = ROWS[r]
            common = dict(tickvals=TICKS, ticktext=TICK_TEXT,
                          showgrid=True, gridcolor='#EBEBEB', gridwidth=1,
                          minor=dict(dtick=0.25, tick0=0, showgrid=True, gridcolor='#F3F3F3', gridwidth=0.6),
                          zeroline=False, showline=True, mirror=True, linecolor=DARK, linewidth=1,
                          tickfont=dict(family=FONT, size=11, color='#4D4D4D'),
                          tickcolor=DARK, ticklen=3, tickwidth=1)
            xcfg = dict(common)
            xcfg.update(range=[-0.1, 2.1], domain=[px(x0), px(x1)], anchor=ya,
                        showticklabels=(r == 3), ticks='outside' if r == 3 else '')
            ycfg = dict(common)
            ycfg.update(range=[2.1, -0.1], domain=[py(y1), py(y0)], anchor=xa,
                        showticklabels=(c == 0), ticks='outside' if c == 0 else '')
            layout['xaxis' if i == 1 else f'xaxis{i}'] = xcfg
            layout['yaxis' if i == 1 else f'yaxis{i}'] = ycfg

            # reference line at depth 1
            shapes.append(dict(type='line', xref=f'{xa} domain', yref=ya, x0=0, x1=1, y0=1.0, y1=1.0,
                               line=dict(color='black', width=1.3)))

    # column strips
    for c in range(3):
        x0, x1 = COLS[b][c]
        shapes.append(dict(type='rect', xref='paper', yref='paper', x0=px(x0), x1=px(x1),
                           y0=py(STRIP_TOP[1]), y1=py(STRIP_TOP[0]),
                           fillcolor='#D9D9D9', line=dict(color=DARK, width=1)))
        annotations.append(dict(text=VARIABLES[c], xref='paper', yref='paper',
                                xanchor='center', yanchor='middle',
                                x=px((x0 + x1) / 2), y=py(sum(STRIP_TOP) / 2), showarrow=False,
                                font=dict(family=FONT, size=11, color='#1A1A1A')))
    # row strips
    for r, month in enumerate(months):
        y0, y1 = ROWS[r]
        sx0, sx1 = STRIP_R[b]
        shapes.append(dict(type='rect', xref='paper', yref='paper', x0=px(sx0), x1=px(sx1),
                           y0=py(y1), y1=py(y0), fillcolor='#D9D9D9', line=dict(color=DARK, width=1)))
        annotations.append(dict(text=month, xref='paper', yref='paper', textangle=90,
                                xanchor='center', yanchor='middle',
                                x=px((sx0 + sx1) / 2), y=py((y0 + y1) / 2), showarrow=False,
                                font=dict(family=FONT, size=11, color='#1A1A1A')))
    annotations.append(dict(text='Depth - norm.', xref='paper', yref='paper', textangle=-90,
                            xanchor='center', yanchor='middle',
                            x=px(TITLE_X[b]), y=py((ROWS[0][0] + ROWS[3][1]) / 2), showarrow=False,
                            font=dict(family=FONT, size=14, color='black')))

fig.update_layout(
    width=W, height=H,
    margin=dict(l=0, r=0, t=0, b=0),
    plot_bgcolor='white', paper_bgcolor='white',
    showlegend=False,
    shapes=shapes, annotations=annotations,
    **layout)

fig.write_html('out.html')
